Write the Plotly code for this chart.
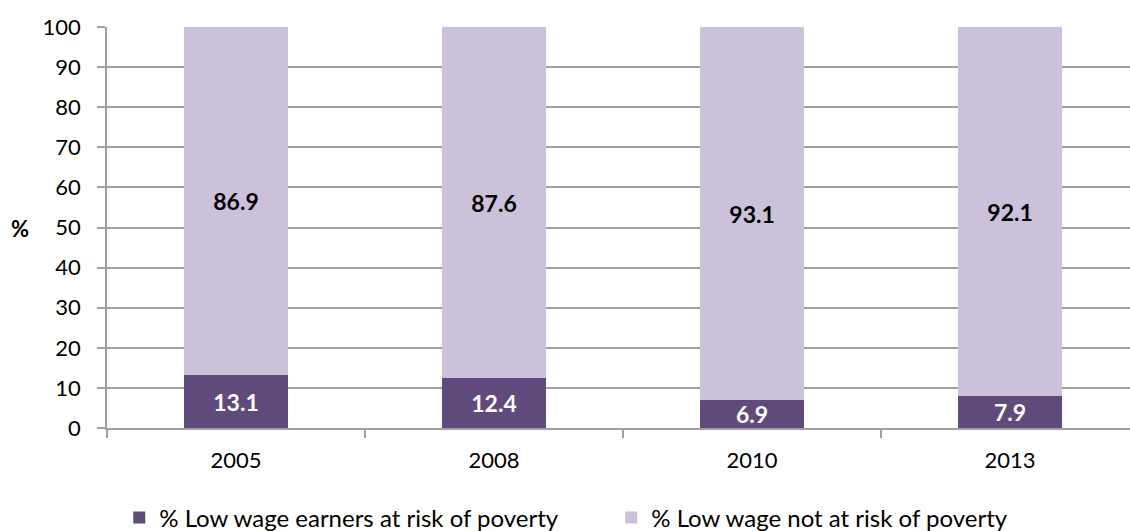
import plotly.graph_objects as go

years = ["2005", "2008", "2010", "2013"]
at_risk = [13.1, 12.4, 6.9, 7.9]
not_at_risk = [86.9, 87.6, 93.1, 92.1]
series_names = ["% Low wage earners at risk of poverty", "% Low wage not at risk of poverty"]
y_ticks = [0, 10, 20, 30, 40, 50, 60, 70, 80, 90, 100]

FONT = "Lato, 'Open Sans', sans-serif"
DARK = "#5F4A7B"
LIGHT = "#CBC1DA"
GRID = "#A0A0A0"

fig = go.Figure()
fig.add_trace(go.Bar(
    x=years, y=at_risk, name=series_names[0], marker=dict(color=DARK, line=dict(width=0)),
    width=0.4, text=[f"{v:.1f}" for v in at_risk], textposition="inside",
    insidetextanchor="middle", constraintext="none", textangle=0,
    textfont=dict(family=FONT, size=23, color="white", weight="bold"),
))
fig.add_trace(go.Bar(
    x=years, y=not_at_risk, name=series_names[1], marker=dict(color=LIGHT, line=dict(width=0)),
    width=0.4, text=[f"{v:.1f}" for v in not_at_risk], textposition="inside",
    insidetextanchor="middle", constraintext="none", textangle=0,
    textfont=dict(family=FONT, size=23, color="black", weight="bold"),
))

fig.update_layout(
    barmode="stack",
    width=1130, height=531,
    margin=dict(l=107, r=0, t=27, b=103, autoexpand=False),
    plot_bgcolor="white", paper_bgcolor="white",
    font=dict(family=FONT, size=22, color="black"),
    showlegend=True,
    legend=dict(orientation="h", x=0.012, xanchor="left", y=-0.224, yanchor="middle",
                font=dict(family=FONT, size=24, color="black"),
                entrywidth=447, entrywidthmode="pixels", traceorder="normal",
                itemclick=False),
    xaxis=dict(type="category", range=[-0.5, 3.465], showline=True, linecolor=GRID, linewidth=1.5,
               ticks="outside", tickson="boundaries", ticklen=8, tickcolor=GRID, tickwidth=1.5,
               showgrid=False, zeroline=False, tickfont=dict(family=FONT, size=22),
               ticklabelstandoff=12),
    yaxis=dict(range=[0, 100], tickvals=y_ticks, showline=True, linecolor=GRID, linewidth=1.5,
               ticks="outside", ticklen=8, tickcolor=GRID, tickwidth=1.5,
               showgrid=True, gridcolor=GRID, gridwidth=1.5, zeroline=False,
               tickfont=dict(family=FONT, size=22), ticklabelstandoff=12),
    annotations=[dict(text="<b>%</b>", xref="paper", yref="paper", x=-0.0846, y=0.497,
                      showarrow=False, font=dict(family=FONT, size=22, color="black"),
                      xanchor="center", yanchor="middle")],
)

fig.write_html("out.html")
